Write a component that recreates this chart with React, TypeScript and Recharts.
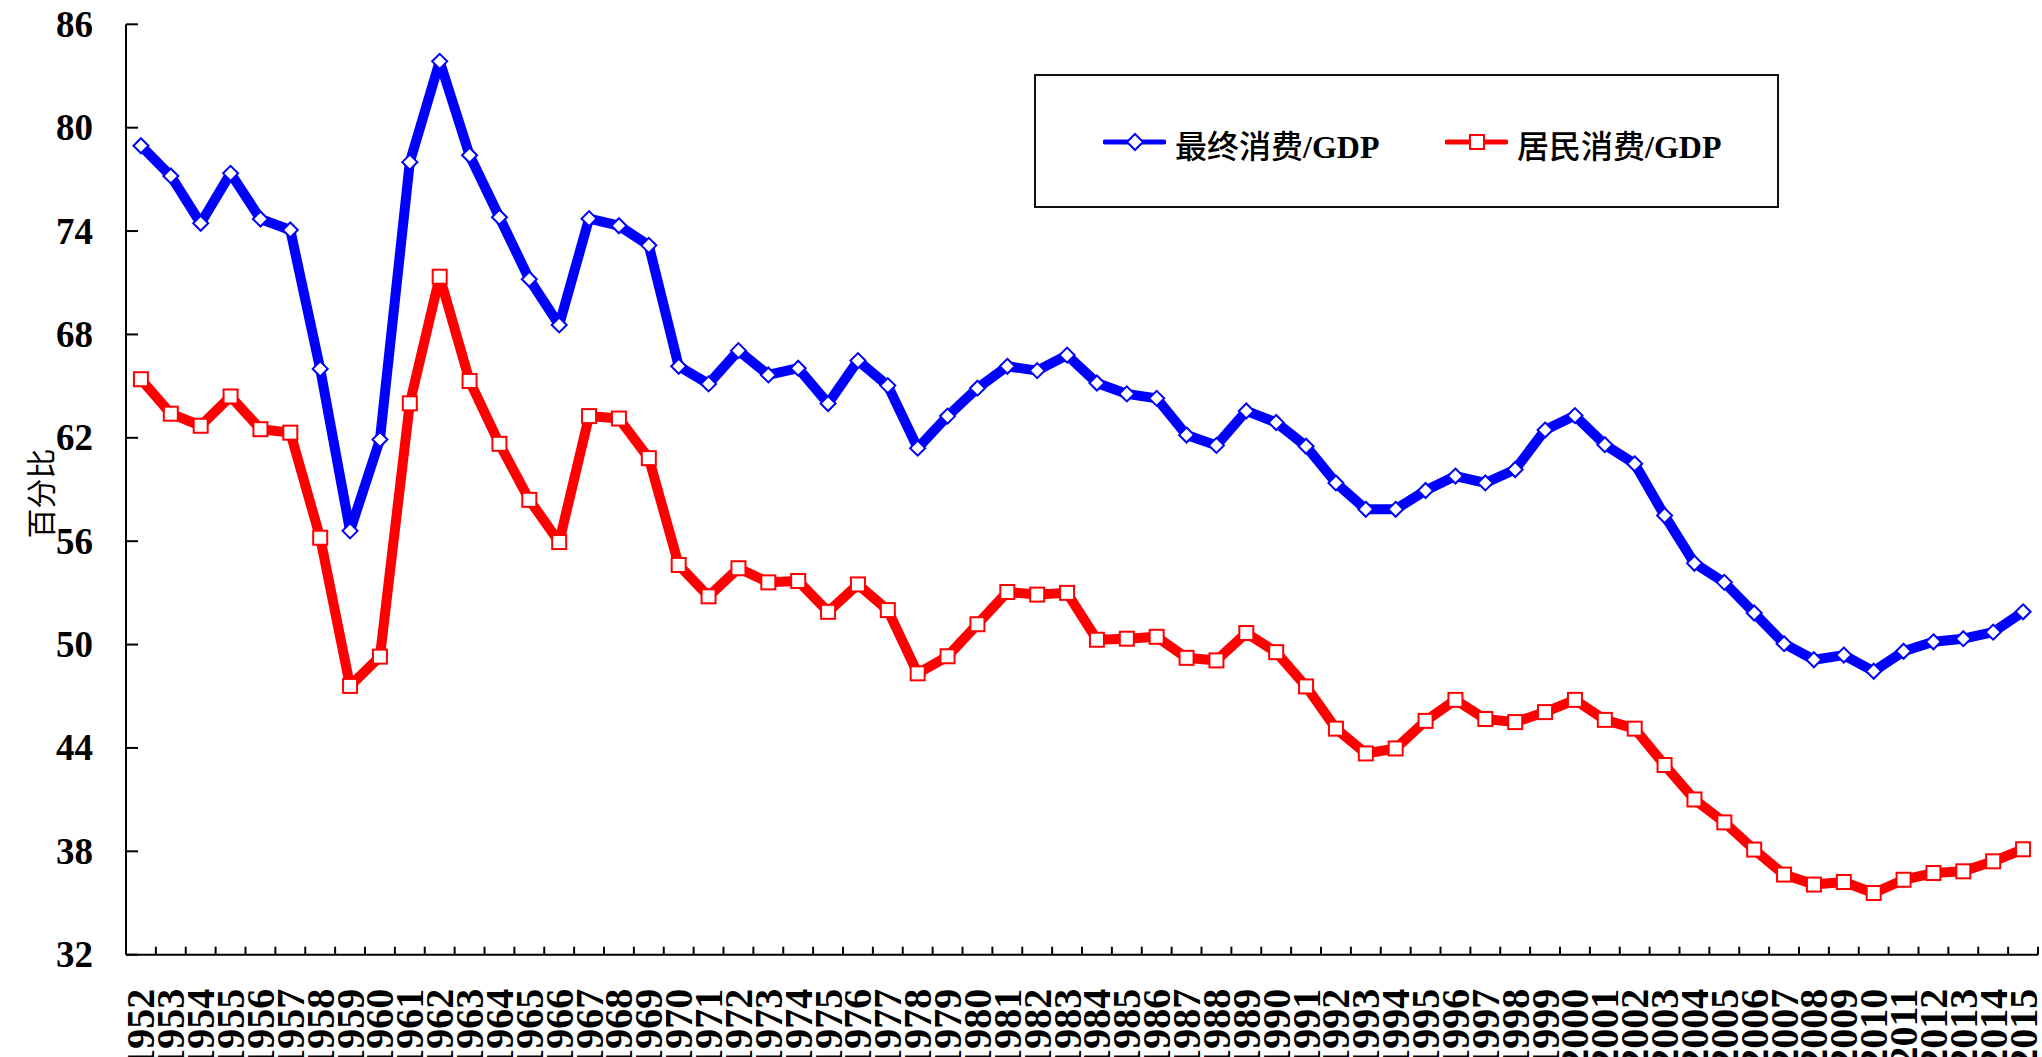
import { CartesianGrid, Label, Legend, Line, LineChart, XAxis, YAxis } from "recharts";

const years = [
  "1952", "1953", "1954", "1955", "1956", "1957", "1958", "1959", "1960", "1961",
  "1962", "1963", "1964", "1965", "1966", "1967", "1968", "1969", "1970", "1971",
  "1972", "1973", "1974", "1975", "1976", "1977", "1978", "1979", "1980", "1981",
  "1982", "1983", "1984", "1985", "1986", "1987", "1988", "1989", "1990", "1991",
  "1992", "1993", "1994", "1995", "1996", "1997", "1998", "1999", "2000", "2001",
  "2002", "2003", "2004", "2005", "2006", "2007", "2008", "2009", "2010", "2011",
  "2012", "2013", "2014", "2015",
];

// 最终消费/GDP
const finalConsumption = [
  78.95, 77.2, 74.45, 77.35, 74.7, 74.06, 66.0, 56.6, 61.9, 78.0,
  83.85, 78.4, 74.8, 71.2, 68.55, 74.72, 74.31, 73.17, 66.15, 65.13,
  67.06, 65.65, 66.04, 63.99, 66.48, 65.03, 61.4, 63.26, 64.88, 66.15,
  65.9, 66.8, 65.18, 64.55, 64.29, 62.16, 61.56, 63.56, 62.89, 61.51,
  59.38, 57.85, 57.85, 58.94, 59.78, 59.38, 60.16, 62.45, 63.29, 61.6,
  60.49, 57.49, 54.72, 53.61, 51.83, 50.05, 49.12, 49.39, 48.45, 49.61,
  50.16, 50.34, 50.72, 51.9,
];

// 居民消费/GDP
const householdConsumption = [
  65.4, 63.4, 62.7, 64.4, 62.5, 62.3, 56.2, 47.6, 49.3, 64.0,
  71.35, 65.3, 61.65, 58.4, 55.95, 63.26, 63.12, 60.82, 54.62, 52.8,
  54.43, 53.61, 53.69, 51.9, 53.49, 52.0, 48.33, 49.32, 51.18, 53.05,
  52.9, 53.0, 50.28, 50.34, 50.45, 49.23, 49.08, 50.67, 49.56, 47.57,
  45.12, 43.68, 43.97, 45.57, 46.79, 45.68, 45.5, 46.08, 46.79, 45.63,
  45.12, 43.01, 41.01, 39.68, 38.1, 36.65, 36.07, 36.22, 35.58, 36.35,
  36.74, 36.84, 37.42, 38.12,
];

const yTicks = [32, 38, 44, 50, 56, 62, 68, 74, 80, 86];

const data = years.map((y, i) => ({
  year: y,
  final: finalConsumption[i],
  household: householdConsumption[i],
}));

const W = 2042;
const H = 1057;
const margin = { top: 24.3, right: 4, left: 26, bottom: 22.3 };
const Y_AXIS_W = 100;
const X_AXIS_H = 80;
const plotW = W - margin.left - Y_AXIS_W - margin.right;
const band = plotW / years.length;

const BLUE = "#0000ff";
const RED = "#ff0000";
const SERIF = "'Liberation Serif', 'Times New Roman', serif";
const CJK = "'Noto Sans CJK SC', sans-serif";

const serifBold = { fontFamily: SERIF, fontWeight: 700 };

function YTick(props: any) {
  const { x, y, payload } = props;
  return (
    <g>
      <line x1={x} x2={x + 12} y1={y} y2={y} stroke="#000" strokeWidth={2} />
      <text
        x={x - 33}
        y={y}
        textAnchor="end"
        dominantBaseline="central"
        style={{ ...serifBold, fontSize: 37 }}
        fill="#000"
      >
        {payload.value}
      </text>
    </g>
  );
}

function XTick(props: any) {
  const { x, y, payload } = props;
  const tx = x + band / 2;
  const ly = y + 34;
  return (
    <g>
      <line x1={tx} x2={tx} y1={y} y2={y - 8} stroke="#000" strokeWidth={2} />
      <text
        x={x}
        y={ly}
        transform={`rotate(-90 ${x} ${ly})`}
        textAnchor="end"
        dominantBaseline="central"
        style={{ ...serifBold, fontSize: 40 }}
        fill="#000"
      >
        {payload.value}
      </text>
    </g>
  );
}

function YTitle(props: any) {
  const vb = props.viewBox || { x: 0, y: 0, width: 0, height: 0 };
  const cx = vb.x + 13;
  const cy = vb.y + vb.height / 2 + 4;
  return (
    <text
      x={cx}
      y={cy}
      transform={`rotate(-90 ${cx} ${cy})`}
      textAnchor="middle"
      dominantBaseline="central"
      style={{ fontFamily: CJK, fontSize: 30 }}
      fill="#000"
    >
      百分比
    </text>
  );
}

const diamondDot = (p: any) => {
  const { cx, cy, index } = p;
  return (
    <path
      key={`fd${index}`}
      d={`M${cx},${cy - 7.5}L${cx + 7.5},${cy}L${cx},${cy + 7.5}L${cx - 7.5},${cy}Z`}
      fill="#fff"
      stroke={BLUE}
      strokeWidth={2}
    />
  );
};

const squareDot = (p: any) => {
  const { cx, cy, index } = p;
  return (
    <rect
      key={`hd${index}`}
      x={cx - 7}
      y={cy - 7}
      width={14}
      height={14}
      fill="#fff"
      stroke={RED}
      strokeWidth={2}
    />
  );
};

function LegendItem({ left, color, marker, cjk }: { left: number; color: string; marker: "diamond" | "square"; cjk: string }) {
  return (
    <div style={{ position: "absolute", left, top: 46, height: 40, display: "flex", alignItems: "center" }}>
      <svg width={63} height={20} style={{ display: "block" }}>
        <line x1={2} x2={61} y1={10} y2={10} stroke={color} strokeWidth={5} strokeLinecap="round" />
        {marker === "diamond" ? (
          <path d="M32,2L40,10L32,18L24,10Z" fill="#fff" stroke={color} strokeWidth={2} />
        ) : (
          <rect x={25} y={3} width={14} height={14} fill="#fff" stroke={color} strokeWidth={2} />
        )}
      </svg>
      <span style={{ marginLeft: 9, fontSize: 32, lineHeight: "40px", position: "relative", top: 3, whiteSpace: "nowrap", color: "#000" }}>
        <span style={{ fontFamily: CJK, fontWeight: 500 }}>{cjk}</span>
        <span style={{ fontFamily: SERIF, fontWeight: 700 }}>/GDP</span>
      </span>
    </div>
  );
}

function LegendBox() {
  return (
    <div
      style={{
        position: "relative",
        width: 745,
        height: 134,
        border: "2px solid #111",
        boxSizing: "border-box",
        background: "#fff",
      }}
    >
      <LegendItem left={67} color={BLUE} marker="diamond" cjk="最终消费" />
      <LegendItem left={409} color={RED} marker="square" cjk="居民消费" />
    </div>
  );
}

export default function App() {
  return (
    <div style={{ position: "absolute", left: 0, top: 0, width: W, height: H, overflow: "hidden", background: "#fff" }}>
      <LineChart width={W} height={H} data={data} margin={margin}>
        <CartesianGrid stroke="none" />
        <XAxis
          dataKey="year"
          scale="band"
          interval={0}
          height={X_AXIS_H}
          tickSize={0}
          tickMargin={0}
          tickLine={false}
          axisLine={{ stroke: "#000", strokeWidth: 2 }}
          tick={<XTick />}
        />
        <YAxis
          type="number"
          domain={[32, 86]}
          ticks={yTicks}
          interval={0}
          width={Y_AXIS_W}
          tickSize={0}
          tickMargin={0}
          tickLine={false}
          axisLine={{ stroke: "#000", strokeWidth: 2 }}
          tick={<YTick />}
        >
          <Label content={<YTitle />} />
        </YAxis>
        <Legend
          layout="vertical"
          align="center"
          verticalAlign="middle"
          wrapperStyle={{ left: 1034, top: 74, width: 745, height: 134 }}
          content={() => <LegendBox />}
        />
        <Line
          type="linear"
          dataKey="final"
          name="最终消费/GDP"
          stroke={BLUE}
          strokeWidth={10}
          strokeLinejoin="round"
          dot={diamondDot}
          activeDot={false}
          isAnimationActive={false}
        />
        <Line
          type="linear"
          dataKey="household"
          name="居民消费/GDP"
          stroke={RED}
          strokeWidth={10}
          strokeLinejoin="round"
          dot={squareDot}
          activeDot={false}
          isAnimationActive={false}
        />
      </LineChart>
    </div>
  );
}
